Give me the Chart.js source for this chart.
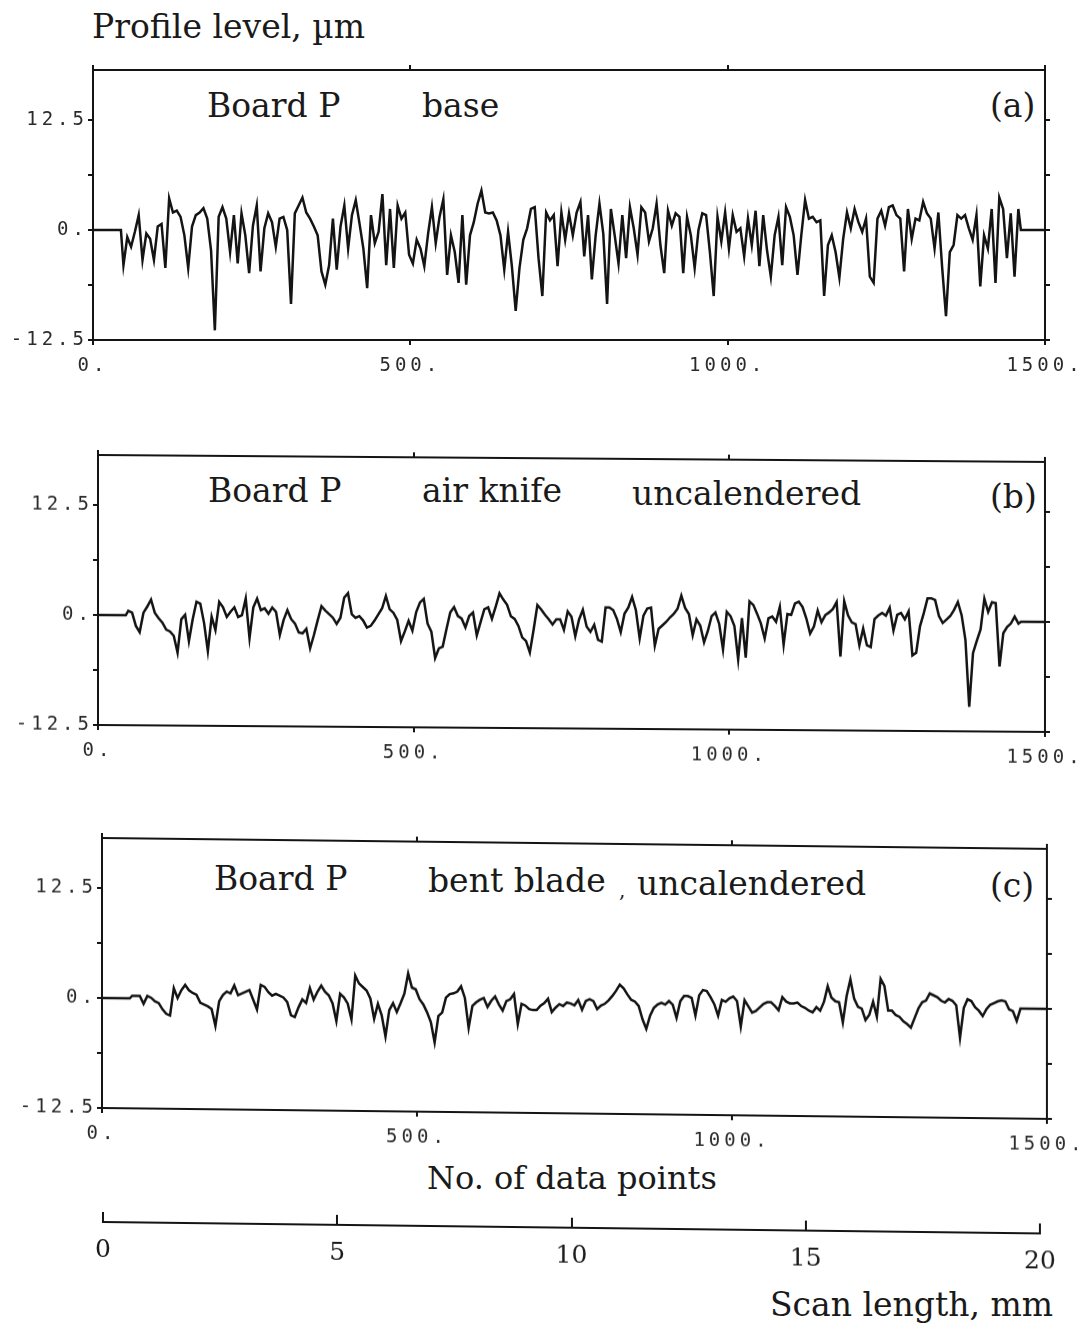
<!DOCTYPE html>
<html>
<head>
<meta charset="utf-8">
<script src="https://cdn.jsdelivr.net/npm/chart.js@4.4.1/dist/chart.umd.min.js"></script>
<style>
  html, body { margin: 0; padding: 0; background: #fff; }
  #page { position: relative; width: 1077px; height: 1329px; overflow: hidden; background: #fff; }
  canvas { position: absolute; }
  .t { position: absolute; font-family: 'DejaVu Serif', serif; font-size: 33px; line-height: 1; color: #1a1a1a; white-space: nowrap; }
</style>
</head>
<body>
<div id="page">
  <div class="t" style="left:92px; top:10px;">Profile level, µm</div>

  <div class="t" style="left:207px; top:89px;">Board P</div>
  <div class="t" style="left:422px; top:89px;">base</div>
  <div class="t" style="left:990px; top:89px;">(a)</div>

  <div class="t" style="left:208px; top:474px;">Board P</div>
  <div class="t" style="left:422px; top:474px;">air knife</div>
  <div class="t" style="left:632px; top:477px;">uncalendered</div>
  <div class="t" style="left:990px; top:480px;">(b)</div>

  <div class="t" style="left:214px; top:862px;">Board P</div>
  <div class="t" style="left:428px; top:864px;">bent blade</div>
  <div class="t" style="left:619px; top:880px; font-size:20px;">,</div>
  <div class="t" style="left:637px; top:867px;">uncalendered</div>
  <div class="t" style="left:990px; top:869px;">(c)</div>

  <div class="t" style="left:427px; top:1162px; font-size:32px;">No. of data points</div>
  <div class="t" style="left:770px; top:1288px;">Scan length, mm</div>

  <canvas id="panelA"></canvas>
  <canvas id="panelB"></canvas>
  <canvas id="panelC"></canvas>
  <canvas id="scanAxis"></canvas>
</div>

<script>
// Sampling of the stylus traces: every 6th data point from no. 48 on
const sampleStart = 48;
const sampleStep = 6;
// zero-level stretches before and after each recorded trace (data point numbers)
const leadIn = [0, 44];
const tailOut = [1462, 1500];

// Profile level (µm), board P, base sheet
const profileBase = [
  -4.0,-0.8,-1.9,-0.2,1.7,-3.4,-0.4,-1.0,-3.4,0.4,0.7,-4.3,3.6,2.0,2.2,1.5,-0.6,-4.3,0.4,1.7,
  2.0,2.5,1.3,-2.3,-11.4,1.5,2.6,1.3,-2.5,1.7,-3.8,1.9,-0.6,-4.9,0.5,2.8,-4.7,0.2,1.9,0.9,
  -1.9,1.3,1.5,0.0,-8.4,1.9,2.8,3.7,2.0,1.3,0.4,-0.6,-4.7,-6.2,-4.0,1.3,-4.5,0.4,2.8,-2.1,
  1.7,3.4,0.7,-2.1,-6.6,1.7,-1.5,-0.2,4.1,-4.0,2.4,-4.3,2.8,1.3,2.0,-2.8,-3.8,-1.1,-2.1,-4.1,
  -0.4,2.6,-1.5,1.5,3.5,-5.1,-0.6,-2.5,-6.0,1.7,-6.2,-0.6,0.9,3.0,4.5,2.0,1.9,2.0,1.1,-0.6,
  -4.5,-0.2,-4.1,-9.2,-4.3,-1.1,0.2,2.4,2.6,-3.2,-7.5,2.0,1.1,1.7,-4.1,2.0,-1.1,1.9,-0.6,2.0,
  3.2,-3.0,1.7,-5.6,-0.6,3.0,-0.4,-8.4,2.4,-0.6,-3.8,1.7,-3.2,2.6,0.2,-2.8,2.6,2.0,-1.3,0.2,
  3.0,-1.7,-4.9,2.2,0.5,1.9,1.5,-4.9,1.5,-0.6,-4.3,0.0,1.9,1.7,-2.5,-7.5,1.5,-1.3,2.0,-2.1,
  1.7,-0.2,0.2,-3.0,1.3,-1.7,2.2,-4.1,1.7,-2.3,-5.3,-0.6,1.5,-4.0,2.6,1.5,-0.6,-5.1,-0.6,3.4,
  1.3,1.5,0.9,1.1,-7.5,-1.7,-0.6,-2.5,-5.4,-1.0,2.0,0.2,2.4,0.9,-0.2,1.3,-5.3,-6.0,1.3,2.2,
  0.5,2.6,2.8,1.7,1.3,-4.7,2.4,-1.0,1.3,1.1,3.2,1.9,1.3,-2.1,2.0,-4.3,-9.8,-2.5,-1.7,1.7,
  1.3,1.7,0.2,-1.1,1.7,-6.4,-0.6,-2.1,2.4,-6.0,3.7,2.4,-3.2,1.9,-5.3,2.4
];

// Profile level (µm), board P, air knife coated, uncalendered
const profileAirKnife = [
  0.5,0.3,-1.2,-1.9,0.3,1.0,1.8,0.3,-0.3,-0.8,-1.6,-1.8,-2.3,-4.2,-0.4,0.1,-2.9,-0.4,1.6,1.4,
  -0.8,-4.0,-0.1,-1.6,1.6,1.0,-0.1,0.5,1.0,-0.1,0.1,2.0,-2.5,1.0,2.0,0.7,0.9,0.3,1.0,0.5,
  -2.1,-0.4,0.7,-0.3,-0.8,-1.8,-1.9,-1.4,-3.6,-2.1,-0.4,1.2,0.7,0.3,-0.1,-0.8,-0.1,2.2,2.7,0.3,
  -0.1,0.1,-0.4,-1.2,-1.0,-0.4,0.3,1.0,2.4,0.9,0.5,-0.3,-2.7,-1.6,-0.4,-1.5,0.6,1.7,2.1,-0.7,
  -1.6,-4.6,-3.5,-3.3,-1.3,0.6,1.2,0.2,-0.1,-1.1,0.2,0.6,-2.0,-0.5,1.0,1.2,-0.1,1.3,2.8,2.1,
  1.5,0.2,-0.1,-0.9,-2.2,-2.6,-3.9,-1.3,1.5,1.0,0.4,-0.1,-0.7,-0.1,-0.1,-1.3,0.8,0.2,-2.0,-0.1,
  1.0,-0.9,-1.5,-0.7,-2.4,-2.6,1.3,1.3,1.0,0.0,-1.5,0.6,1.3,2.5,1.0,-2.2,0.4,1.2,1.3,-3.0,
  -1.1,-0.7,-0.3,0.2,0.6,1.2,2.7,1.3,0.6,-1.8,0.0,-0.7,-2.6,-1.3,0.4,0.8,-0.5,-3.4,0.9,0.4,
  -0.7,-4.5,0.2,-4.3,2.1,1.7,0.7,-0.4,-2.1,0.2,0.4,-0.2,1.5,-2.8,0.7,0.6,1.9,2.1,1.5,0.2,
  -1.5,-0.7,1.1,-0.2,0.6,0.9,1.3,2.1,-4.1,2.2,0.6,-0.2,-0.4,-2.8,-0.9,-2.8,-3.0,0.2,0.6,0.9,
  0.6,1.5,-1.1,0.7,0.9,0.2,1.1,-3.9,-3.6,-0.6,0.9,2.6,2.6,2.4,0.6,-0.2,0.2,0.6,1.3,2.2,
  0.7,-2.1,-9.7,-3.6,-2.2,-0.9,2.6,1.1,2.2,2.1,-5.1,-1.3,-0.6,-0.2,0.6,-0.2
];

// Profile level (µm), board P, bent blade coated, uncalendered
const profileBentBlade = [
  0.3,0.3,0.3,-0.6,0.3,0.1,-0.3,-0.5,-1.2,-1.7,-1.9,1.2,0.1,1.0,1.6,1.0,0.7,0.5,-0.4,-0.6,
  -0.8,-1.1,-3.0,-0.2,0.5,0.9,0.7,1.6,0.5,0.7,0.9,1.1,0.0,-1.1,1.7,1.5,0.9,0.5,0.7,0.5,
  0.3,-0.2,-1.7,-1.9,-0.8,0.1,-0.3,1.4,0.1,1.0,1.7,1.0,0.6,-0.3,-2.3,0.8,0.4,-0.3,-2.1,2.9,
  2.0,1.6,1.2,0.3,-2.0,-0.3,-1.6,-4.0,-1.0,-0.2,-1.2,-0.2,0.9,3.2,1.6,1.4,0.3,-0.3,-1.2,-2.3,
  -4.6,-1.6,-1.2,0.5,0.9,1.0,1.2,1.8,0.5,-2.9,-0.4,0.0,0.3,0.5,-0.5,0.2,0.7,-0.2,-0.9,0.2,
  0.4,1.0,-2.4,-0.1,-0.3,-0.7,-0.8,-0.8,-0.3,0.0,0.5,-1.0,-0.5,-0.1,-0.3,0.1,0.0,-0.2,0.4,-0.7,
  0.3,0.5,0.3,-0.6,-0.2,0.0,0.4,0.9,1.5,2.2,1.8,1.1,0.5,0.3,-0.2,-1.7,-2.8,-1.3,-0.4,0.0,
  0.2,0.0,0.4,0.0,-1.5,0.4,1.0,1.0,0.8,-1.2,1.1,1.7,1.6,0.9,0.1,-1.2,0.6,0.4,0.8,1.0,
  0.5,-2.4,0.6,-0.1,-0.8,-0.6,-0.2,0.2,0.4,0.4,0.0,-0.5,1.0,0.5,0.3,0.3,0.4,0.0,-0.2,-0.5,
  -0.7,-0.1,-0.5,0.5,2.3,1.0,0.6,0.5,-1.8,1.2,3.1,0.9,0.0,-0.2,-1.5,-0.9,0.6,-1.1,3.2,2.4,
  -0.4,-0.4,-0.9,-1.1,-1.6,-1.9,-2.3,-1.2,-0.1,0.6,0.8,1.6,1.4,1.2,0.8,0.6,1.0,0.8,0.3,-3.4,
  0.0,1.0,0.8,0.1,-0.3,-0.9,-0.1,0.4,0.6,0.8,0.9,0.8,-0.1,-0.3,-1.4,0.0
];

// Axis ticks
const xTickValues = [0, 500, 1000, 1500];
const yTickValues = [-12.5, -6.25, 0, 6.25, 12.5];
const yTickText = ['-12.5', '', '0.', '', '12.5'];
const yRange = [-12.5, 18.2];
const scanTicks = [0, 5, 10, 15, 20];
const scanRange = [0, 20];

const ink = '#141414';
const tickFont = { family: "'DejaVu Sans Mono', monospace", size: 19 };
const tickColor = '#2b2b2b';

// wide, typewriter-like spacing for the numeric tick labels
const spacedTicks = {
  id: 'spacedTicks',
  beforeDraw(chart) { chart.ctx.letterSpacing = '4px'; }
};

// the plotter sheet runs slightly downhill to the right: tilt in degrees
function tilt(cv, originX, deg) {
  cv.style.transformOrigin = originX + 'px 0px';
  cv.style.transform = 'skewY(' + deg + 'deg)';
}

// end labels may overhang the frame, so they must not shrink the plot area
function noOverhang(s) { s.paddingLeft = 0; s.paddingRight = 0; }

function profileChart(id, frame, values, tiltDeg) {
  const topExtra = 16, bottomExtra = 50, rightAxis = 8;
  const cv = document.getElementById(id);
  const h = (frame.bottom - frame.top) + topExtra + bottomExtra;
  cv.width = 1077; cv.height = h;
  cv.style.width = '1077px'; cv.style.height = h + 'px';
  cv.style.left = '0px'; cv.style.top = (frame.top - topExtra) + 'px';
  if (tiltDeg) tilt(cv, frame.left, tiltDeg);

  const pts = [];
  leadIn.forEach(x => pts.push({ x: x, y: 0 }));
  values.forEach((v, i) => pts.push({ x: sampleStart + i * sampleStep, y: v }));
  tailOut.forEach(x => pts.push({ x: x, y: 0 }));

  const grid = { drawOnChartArea: false, drawTicks: true, tickLength: 5, color: ink, lineWidth: 2 };
  const border = { display: true, color: ink, width: 2 };

  return new Chart(cv, {
    type: 'line',
    data: { datasets: [{ data: pts, borderColor: ink, borderWidth: 2.5, pointRadius: 0, tension: 0, fill: false }] },
    plugins: [spacedTicks],
    options: {
      responsive: false, animation: false, devicePixelRatio: 1,
      parsing: false,
      layout: { padding: { left: 0, right: 1077 - frame.right - rightAxis, top: topExtra - 6, bottom: 0 } },
      plugins: { legend: { display: false }, tooltip: { enabled: false } },
      scales: {
        x: {
          type: 'linear', axis: 'x', position: 'bottom', min: 0, max: 1500,
          afterBuildTicks: s => { s.ticks = xTickValues.map(v => ({ value: v })); },
          afterFit: s => { s.height = bottomExtra; noOverhang(s); },
          ticks: { callback: v => v + '.', font: tickFont, color: tickColor, padding: 10, maxRotation: 0, autoSkip: false },
          grid: grid, border: border
        },
        xTop: {
          type: 'linear', axis: 'x', position: 'top', min: 0, max: 1500,
          afterBuildTicks: s => { s.ticks = xTickValues.map(v => ({ value: v })); },
          afterFit: s => { s.height = 6; noOverhang(s); },
          ticks: { display: false },
          grid: grid, border: border
        },
        y: {
          type: 'linear', axis: 'y', position: 'left', min: yRange[0], max: yRange[1],
          afterBuildTicks: s => { s.ticks = yTickValues.map(v => ({ value: v })); },
          afterFit: s => { s.width = frame.left; },
          ticks: { callback: (v, i) => yTickText[i], font: tickFont, color: tickColor, padding: 0, autoSkip: false },
          grid: grid, border: border
        },
        yRight: {
          type: 'linear', axis: 'y', position: 'right', min: yRange[0], max: yRange[1],
          afterBuildTicks: s => { s.ticks = yTickValues.map(v => ({ value: v })); },
          afterFit: s => { s.width = rightAxis; },
          ticks: { display: false },
          grid: grid, border: border
        }
      }
    }
  });
}

profileChart('panelA', { left: 93, right: 1045, top: 70, bottom: 340 }, profileBase, 0);
profileChart('panelB', { left: 98, right: 1045, top: 455, bottom: 725 }, profileAirKnife, 0.42);
profileChart('panelC', { left: 102, right: 1047, top: 838, bottom: 1108 }, profileBentBlade, 0.66);

// Scan length scale (mm) under the three profiles
(function () {
  const cv = document.getElementById('scanAxis');
  cv.width = 1077; cv.height = 72;
  cv.style.width = '1077px'; cv.style.height = '72px';
  cv.style.left = '0px'; cv.style.top = '1200px';
  tilt(cv, 103, 0.7);
  new Chart(cv, {
    type: 'line',
    data: { datasets: [] },
    options: {
      responsive: false, animation: false, devicePixelRatio: 1,
      layout: { padding: { left: 103, right: 37, top: 12, bottom: 0 } },
      plugins: { legend: { display: false }, tooltip: { enabled: false } },
      scales: {
        x: {
          type: 'linear', position: 'bottom', min: scanRange[0], max: scanRange[1],
          afterBuildTicks: s => { s.ticks = scanTicks.map(v => ({ value: v })); },
          afterFit: s => { s.height = 50; noOverhang(s); },
          ticks: { font: { family: "'DejaVu Serif', serif", size: 25 }, color: '#1a1a1a', padding: 13, maxRotation: 0, autoSkip: false },
          grid: { drawOnChartArea: true, drawTicks: false, color: ink, lineWidth: 2 },
          border: { display: true, color: ink, width: 2 }
        },
        y: { display: false, min: 0, max: 1 }
      }
    }
  });
})();
</script>
</body>
</html>
